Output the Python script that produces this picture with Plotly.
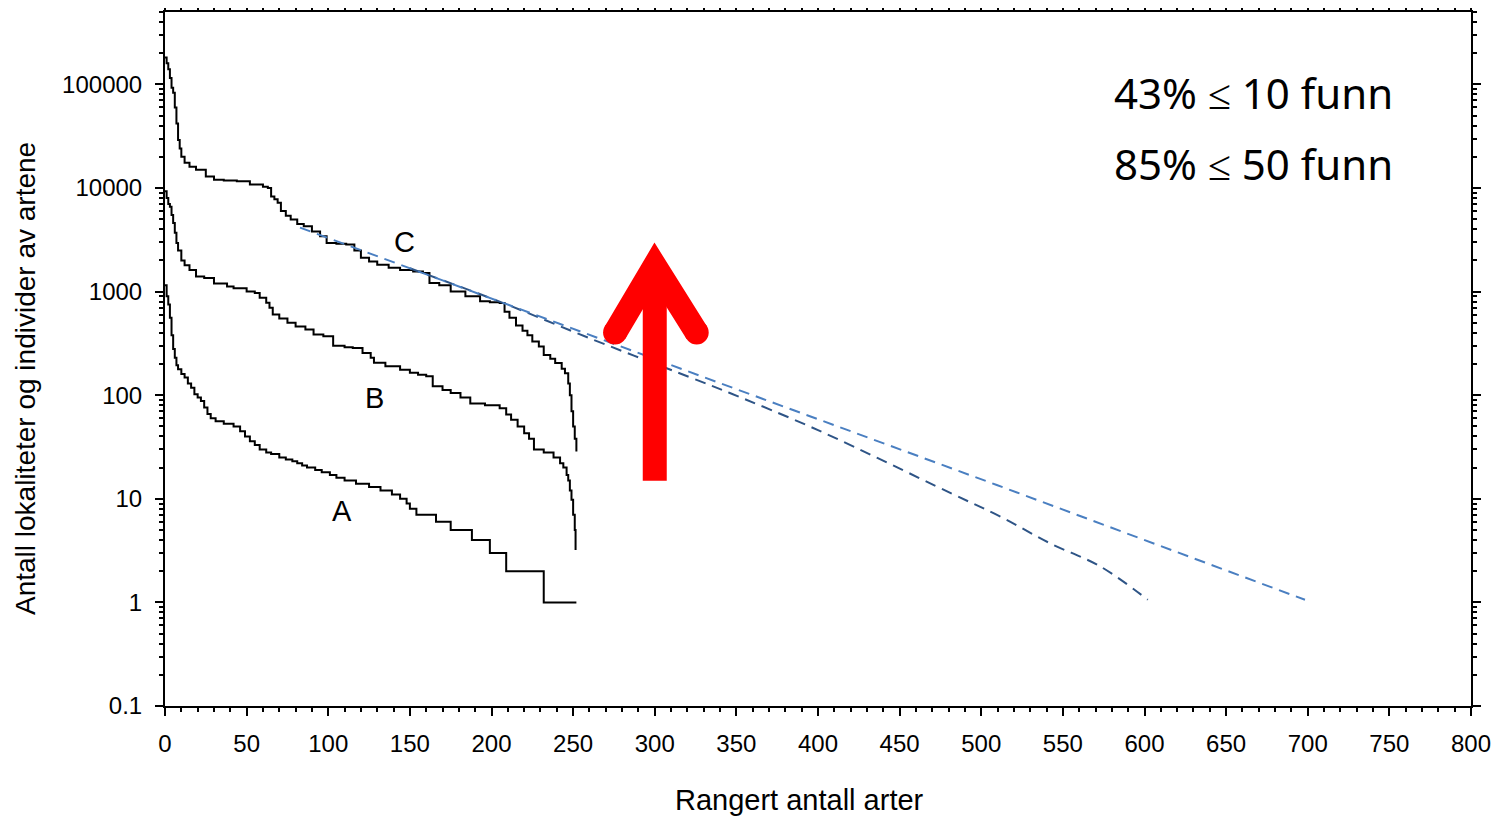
import numpy as np
import plotly.graph_objects as go

# ---------------- data ----------------
A_rank = [0, 1, 2, 3, 4, 5, 6, 7, 8, 10, 12, 14, 16, 18, 20, 22, 24, 26, 28, 31, 36, 42, 46, 49, 52, 55, 58, 62, 65, 70,
          74, 78, 81, 84, 87, 92, 96, 101, 105, 110, 117, 125, 132, 139, 144, 148, 150, 154, 166, 175, 188, 199, 209, 232, 252]
A_count = [1150, 900, 750, 560, 380, 280, 230, 195, 178, 160, 148, 130, 118, 102, 95, 88, 76, 66, 60, 56, 53, 50, 45, 40, 36, 33, 30, 28, 27, 25,
           24, 23, 22, 21, 20, 19, 18, 17, 16, 15, 14, 13, 12, 11, 10, 9, 8, 7, 6, 5, 4, 3, 2, 1, 1]

B_rank = [0, 1, 2, 3, 4, 5, 6, 7, 8, 10, 12, 15, 19, 24, 30, 38, 42, 50, 55, 58, 62, 64, 66, 70, 75, 80, 86, 91, 97, 103,
          110, 115, 121, 126, 128, 135, 144, 150, 155, 160, 164, 170, 175, 181, 187, 196, 205, 209, 212, 216, 220, 223, 226, 232,
          238, 242, 244, 246, 247, 248, 249, 250, 251, 251.5]
B_count = [9300, 8000, 7000, 6600, 5500, 4600, 3700, 2950, 2500, 2000, 1800, 1620, 1400, 1350, 1200, 1120, 1080, 1000, 970, 870,
           780, 700, 600, 550, 500, 460, 430, 385, 370, 300, 290, 286, 256, 230, 206, 190, 176, 165, 158, 152, 122, 112, 105, 95,
           83, 80, 75, 65, 58, 50, 43, 38, 30, 28, 25, 22, 20, 17, 15, 12, 9.8, 7, 5, 3.2]

C_rank = [0, 1, 2, 3, 4, 5, 6, 7, 8, 9, 10, 12, 15, 19, 25, 30, 36, 44, 52, 60, 63, 65, 67, 69, 71, 74, 77, 81, 85, 90, 95, 99,
          105, 111, 116, 120, 125, 130, 137, 144, 152, 158, 162, 168, 175, 184, 193, 199, 205, 208, 211, 215, 219, 222, 225, 229,
          232, 236, 239, 243, 245, 247, 248, 249, 250, 251, 252]
C_count = [182000, 160000, 140000, 115000, 93000, 83000, 60000, 42000, 29000, 24000, 20000, 17500, 16000, 15000, 12900, 12000,
           11800, 11600, 10800, 10300, 10000, 8300, 7800, 7200, 6000, 5400, 4970, 4500, 4270, 3800, 3420, 2950, 2900, 2850, 2500,
           2120, 1950, 1820, 1700, 1620, 1560, 1510, 1210, 1150, 1000, 900, 805, 790, 775, 640, 560, 470, 420, 380, 330, 296, 245,
           225, 205, 180, 163, 130, 100, 70, 50, 38, 28.6]

# extrapolation lines
fit1_rank = [82.7, 205, 327.7, 509.5, 698.3]
fit1_count = [4150, 800, 154, 13.6, 1.06]
fit2_rank = [150, 205, 260, 328, 346, 400, 481, 512, 542, 573, 602]
fit2_count = [1680, 800, 355, 136, 105, 46, 11.4, 6.7, 3.73, 2.22, 1.06]

y_tickvals = [0.1, 1, 10, 100, 1000, 10000, 100000]
y_ticktext = ["0.1", "1", "10", "100", "1000", "10000", "100000"]
x_tickvals = list(range(0, 801, 50))

curve_labels = ["A", "B", "C"]
label_rank = [108.4, 128.6, 146.4]
label_count = [7.66, 94.6, 3040]

# red arrow (rank, count)
arrow_rank = 300
arrow_base = 14.9
arrow_shaft_top = 1500
arrow_apex = 1780
arrow_wing_rank = [275.7, 325.7]
arrow_wing_count = 402

notes = ["43% \u2264 10 funn", "85% \u2264 50 funn"]

# ---------------- figure ----------------
fig = go.Figure()

for r, c in [(A_rank, A_count), (B_rank, B_count), (C_rank, C_count)]:
    fig.add_trace(go.Scatter(x=r, y=c, mode="lines", line=dict(color="black", width=2, shape="hv"),
                             hoverinfo="skip", showlegend=False))

fig.add_trace(go.Scatter(x=fit2_rank, y=fit2_count, mode="lines",
                         line=dict(color="#2E5486", width=2, dash="11px,7px", shape="spline"),
                         showlegend=False, hoverinfo="skip"))
fig.add_trace(go.Scatter(x=fit1_rank, y=fit1_count, mode="lines",
                         line=dict(color="#4A7FC1", width=2, dash="11px,7px"),
                         showlegend=False, hoverinfo="skip"))

# arrow
fig.add_trace(go.Scatter(x=[arrow_rank, arrow_rank], y=[arrow_base, arrow_shaft_top], mode="lines",
                         line=dict(color="#FF0000", width=24), showlegend=False, hoverinfo="skip"))
fig.add_trace(go.Scatter(x=[arrow_wing_rank[0], arrow_rank, arrow_wing_rank[1]],
                         y=[arrow_wing_count, arrow_apex, arrow_wing_count], mode="lines",
                         line=dict(color="#FF0000", width=24), showlegend=False, hoverinfo="skip"))
fig.add_trace(go.Scatter(x=arrow_wing_rank, y=[arrow_wing_count, arrow_wing_count], mode="markers",
                         marker=dict(color="#FF0000", size=24, line=dict(width=0)), showlegend=False, hoverinfo="skip"))

for t, xr, yc in zip(curve_labels, label_rank, label_count):
    fig.add_annotation(x=xr, y=np.log10(yc), xref="x", yref="y", text=t, showarrow=False,
                       font=dict(family="Liberation Sans, Arial", size=29, color="black"))

for i, t in enumerate(notes):
    fig.add_annotation(x=0.7251, y=0.8833 - i * 0.1009, xref="paper", yref="paper", text=t, showarrow=False,
                       xanchor="left", yanchor="middle",
                       font=dict(family="Noto Sans", size=42, color="black"))

fig.add_annotation(x=0.4862, y=-0.1354, xref="paper", yref="paper", text="Rangert antall arter", showarrow=False,
                   xanchor="center", yanchor="middle", font=dict(family="Liberation Sans, Arial", size=29, color="black"))
fig.add_annotation(x=-0.1072, y=0.4726, xref="paper", yref="paper", text="Antall lokaliteter og individer av artene",
                   showarrow=False, textangle=-90, xanchor="center", yanchor="middle",
                   font=dict(family="Liberation Sans, Arial", size=28, color="black"))

axis_common = dict(showline=True, linecolor="black", linewidth=2, mirror="allticks", ticks="outside",
                   tickcolor="black", tickwidth=2, ticklen=8, showgrid=False, zeroline=False, automargin=False,
                   tickfont=dict(family="Liberation Sans, Arial", size=24, color="black"))

fig.update_xaxes(range=[0, 800], tickmode="array", tickvals=x_tickvals, ticklabelstandoff=7,
                 minor=dict(ticks="outside", dtick=10, ticklen=4, tickwidth=2, tickcolor="black", showgrid=False),
                 **axis_common)
fig.update_yaxes(type="log", range=[-1, np.log10(500000)], tickmode="array", tickvals=y_tickvals,
                 ticktext=y_ticktext, ticklabelstandoff=8,
                 minor=dict(ticks="outside", dtick="D1", ticklen=4, tickwidth=2, tickcolor="black", showgrid=False),
                 **axis_common)

# the page body adds an 8px margin, so the figure is sized/placed to compensate
fig.update_layout(width=1491, height=808, margin=dict(l=157, r=28, t=4, b=110),
                  plot_bgcolor="white", paper_bgcolor="white", showlegend=False)

fig.write_html("out.html")
